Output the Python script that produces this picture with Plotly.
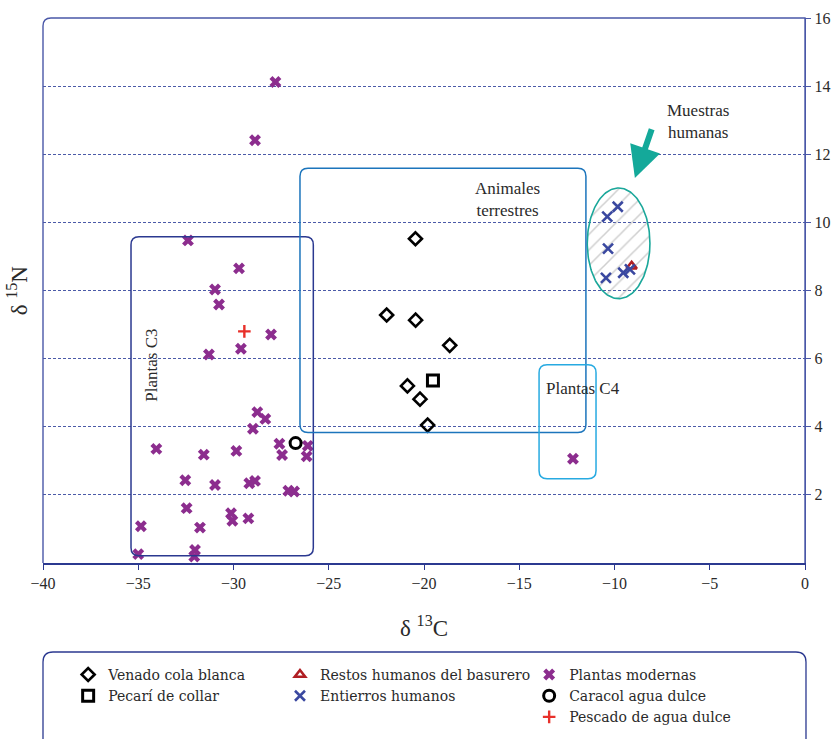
import numpy as np
import plotly.graph_objects as go

# --- isotope values (δ13C, δ15N) -------------------------------------------
venado_c = [-20.45, -21.96, -20.44, -18.65, -20.87, -20.21, -19.81]
venado_n = [9.52, 7.28, 7.13, 6.39, 5.20, 4.81, 4.05]

pecari_c = [-19.53]
pecari_n = [5.36]

restos_c = [-9.10]
restos_n = [8.71]

entierros_c = [-9.83, -10.38, -10.34, -10.45, -9.54, -9.19]
entierros_n = [10.46, 10.17, 9.23, 8.37, 8.52, 8.62]

plantas_c = [-27.80, -28.87, -32.39, -29.71, -30.97, -30.76, -28.03, -29.61,
             -31.29, -28.75, -28.33, -28.98, -27.59, -26.10, -26.16, -27.45,
             -34.05, -31.56, -29.85, -32.53, -30.97, -29.17, -28.87, -27.12,
             -26.82, -32.46, -30.13, -30.06, -29.22, -31.76, -34.86, -35.00,
             -32.02, -32.06, -12.18]
plantas_n = [14.12, 12.41, 9.47, 8.65, 8.03, 7.59, 6.71, 6.29,
             6.12, 4.43, 4.23, 3.94, 3.50, 3.44, 3.13, 3.17,
             3.35, 3.18, 3.29, 2.43, 2.29, 2.34, 2.41, 2.12,
             2.10, 1.61, 1.46, 1.24, 1.31, 1.04, 1.08, 0.26,
             0.38, 0.19, 3.06]

caracol_c = [-26.74]
caracol_n = [3.52]

pescado_c = [-29.43]
pescado_n = [6.80]

x_ticks = [-40, -35, -30, -25, -20, -15, -10, -5, 0]
y_ticks = [2, 4, 6, 8, 10, 12, 14, 16]

SERIF = "Liberation Serif, Times New Roman, serif"
LEG_SERIF = "DejaVu Serif, serif"
TXT = "#2a2a2a"
FRAME = "#4a58a8"
NAVY = "#2b3990"
GRID = "#4b5aa8"

fig = go.Figure()

# hatched ellipse around the human samples
cx, cy, erx, ery = -9.785, 9.385, 1.645, 1.625
t = np.linspace(0, 2 * np.pi, 181)
fig.add_trace(go.Scatter(
    x=cx + erx * np.cos(t), y=cy + ery * np.sin(t),
    mode="lines", line=dict(color="#1aa79a", width=1.6),
    fill="toself", fillcolor="rgba(0,0,0,0)",
    fillpattern=dict(shape="/", fgcolor="#a0a0a0", bgcolor="rgba(0,0,0,0)",
                     size=11, solidity=0.14),
    hoverinfo="skip", showlegend=False))

fig.add_trace(go.Scatter(
    x=venado_c, y=venado_n, mode="markers", name="Venado cola blanca",
    marker=dict(symbol="diamond-open", size=10, color="black",
                line=dict(width=2.6, color="black")),
    legend="legend"))
fig.add_trace(go.Scatter(
    x=pecari_c, y=pecari_n, mode="markers", name="Pecarí de collar",
    marker=dict(symbol="square-open", size=11, color="black",
                line=dict(width=3, color="black")),
    legend="legend"))
fig.add_trace(go.Scatter(
    x=restos_c, y=restos_n, mode="markers", name="Restos humanos del basurero",
    marker=dict(symbol="triangle-up-open", size=9, color="#b01e23",
                line=dict(width=2.6, color="#b01e23")),
    legend="legend2"))
fig.add_trace(go.Scatter(
    x=entierros_c, y=entierros_n, mode="markers", name="Entierros humanos",
    marker=dict(symbol="x-thin", size=10, color="#3a48a0",
                line=dict(width=2.6, color="#3a48a0")),
    legend="legend2"))
fig.add_trace(go.Scatter(
    x=plantas_c, y=plantas_n, mode="markers", name="Plantas modernas",
    marker=dict(symbol="x", size=10.5, color="#8c2d8e",
                line=dict(width=0)),
    legend="legend3"))
fig.add_trace(go.Scatter(
    x=caracol_c, y=caracol_n, mode="markers", name="Caracol agua dulce",
    marker=dict(symbol="circle-open", size=11, color="black",
                line=dict(width=3, color="black")),
    legend="legend3"))
fig.add_trace(go.Scatter(
    x=pescado_c, y=pescado_n, mode="markers", name="Pescado de agua dulce",
    marker=dict(symbol="cross-thin", size=9, color="#e8302a",
                line=dict(width=2.4, color="#e8302a")),
    legend="legend3"))


def rounded_rect(x0, x1, y0, y1, rx, ry):
    return (f"M {x0 + rx},{y0} L {x1 - rx},{y0} Q {x1},{y0} {x1},{y0 + ry} "
            f"L {x1},{y1 - ry} Q {x1},{y1} {x1 - rx},{y1} "
            f"L {x0 + rx},{y1} Q {x0},{y1} {x0},{y1 - ry} "
            f"L {x0},{y0 + ry} Q {x0},{y0} {x0 + rx},{y0} Z")


shapes = []
# group boxes in data coordinates
rx, ry = 0.42, 0.235
for (x0, x1, y0, y1, col) in [(-35.38, -25.81, 0.21, 9.58, NAVY),
                              (-26.51, -11.50, 3.83, 11.59, "#1c75bc"),
                              (-13.96, -10.97, 2.47, 5.82, "#27aae1")]:
    shapes.append(dict(type="path", xref="x", yref="y",
                       path=rounded_rect(x0, x1, y0, y1, rx, ry),
                       line=dict(color=col, width=1.5)))

# plot frame with a rounded top-left corner
shapes.append(dict(type="path", xref="paper", yref="paper",
                   path=f"M 0,0 L 0,{1 - 8 / 545} Q 0,1 {8 / 762},1 L 1,1 L 1,0",
                   line=dict(color=FRAME, width=1.4)))
# legend box
lx0, lx1, ly0, ly1 = 0.0, 1.0013, -0.345, -0.1633
lrx, lry = 10 / 762, 10 / 545
shapes.append(dict(type="path", xref="paper", yref="paper",
                   path=rounded_rect(lx0, lx1, ly0, ly1, lrx, lry),
                   line=dict(color=NAVY, width=1.3)))

annotations = [
    dict(x=-15.6, y=10.68, xref="x", yref="y", text="Animales<br>terrestres",
         showarrow=False, font=dict(family=SERIF, size=17, color=TXT)),
    dict(x=-5.6, y=12.97, xref="x", yref="y", text="Muestras<br>humanas",
         showarrow=False, font=dict(family=SERIF, size=17, color=TXT)),
    dict(x=-34.28, y=5.82, xref="x", yref="y", text="Plantas C3", textangle=-90,
         showarrow=False, font=dict(family=SERIF, size=17, color=TXT)),
    dict(x=-11.65, y=5.12, xref="x", yref="y", text="Plantas C4",
         showarrow=False, font=dict(family=SERIF, size=17, color=TXT)),
    # arrow pointing at the human samples
    dict(x=-8.93, y=11.3, xref="x", yref="y", ax=-8.02, ay=12.78,
         axref="x", ayref="y", text="", showarrow=True, arrowhead=2,
         arrowsize=1.05, arrowwidth=6, arrowcolor="#14a99a"),
    # axis titles
    dict(x=0.5, y=-0.117, xref="paper", yref="paper", text="δ <sup>13</sup>C",
         xanchor="center", yanchor="middle",
         showarrow=False, font=dict(family=SERIF, size=23, color=TXT)),
    dict(x=-0.033, y=0.5, xref="paper", yref="paper", text="δ <sup>15</sup>N",
         xanchor="center", yanchor="middle",
         textangle=-90, showarrow=False,
         font=dict(family=SERIF, size=23, color=TXT)),
]

legend_common = dict(bgcolor="rgba(0,0,0,0)", borderwidth=0, yanchor="top",
                     xanchor="left", orientation="v",
                     font=dict(family=LEG_SERIF, size=14, color=TXT),
                     tracegroupgap=0, itemsizing="trace")

fig.update_layout(
    width=836, height=739,
    margin=dict(l=43, r=31, t=18, b=176, autoexpand=False),
    paper_bgcolor="white", plot_bgcolor="white",
    font=dict(family=SERIF, size=15, color=TXT),
    shapes=shapes, annotations=annotations,
    legend=dict(x=0.033, y=-0.176, **legend_common),
    legend2=dict(x=0.311, y=-0.176, **legend_common),
    legend3=dict(x=0.638, y=-0.176, **legend_common),
    xaxis=dict(range=[-40, 0], tickvals=x_ticks, ticks="outside", ticklen=5,
               tickcolor=NAVY, showline=True, linecolor=NAVY, linewidth=1.5,
               showgrid=False, zeroline=False, fixedrange=True,
               automargin=False,
               tickfont=dict(family=SERIF, size=16, color=TXT)),
    yaxis=dict(range=[0, 16], tickvals=y_ticks, side="right", ticks="outside",
               ticklen=5, tickcolor=FRAME, showline=True, linecolor=FRAME,
               linewidth=1.4, showgrid=True, gridcolor=GRID, gridwidth=1,
               griddash="3px,2px", zeroline=False, fixedrange=True,
               automargin=False,
               tickfont=dict(family=SERIF, size=16, color=TXT)),
)

fig.write_html("out.html")
